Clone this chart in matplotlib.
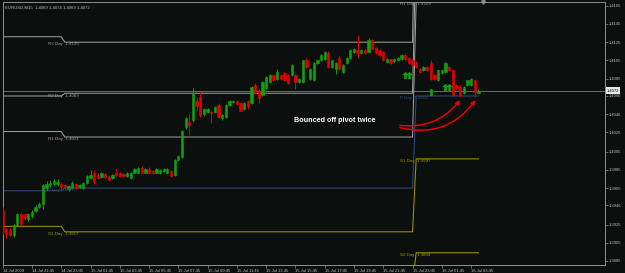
import matplotlib
matplotlib.use('Agg')
import matplotlib.pyplot as plt
import matplotlib.transforms as mtransforms
from matplotlib.patches import FancyArrowPatch
import numpy as np

# ---------------- data ----------------
opens = [1.3941, 1.3920, 1.3919, 1.3913, 1.3925, 1.3936, 1.3936, 1.3931, 1.3934, 1.3940,
         1.3944, 1.3948, 1.3965, 1.3968, 1.3969, 1.3969, 1.3970, 1.3968, 1.3964, 1.3965,
         1.3969, 1.3966, 1.3965, 1.3971, 1.3976, 1.3982, 1.3979, 1.3977, 1.3980, 1.3977,
         1.3976, 1.3982, 1.3981, 1.3980, 1.3978, 1.3976, 1.3982, 1.3982, 1.3987, 1.3982,
         1.3986, 1.3984, 1.3982, 1.3981, 1.3984, 1.3982, 1.3984, 1.3979, 1.3996, 1.3999,
         1.4032, 1.4037, 1.4040, 1.4060, 1.4065, 1.4046, 1.4048, 1.4048, 1.4048, 1.4056,
         1.4042, 1.4043, 1.4056, 1.4059, 1.4061, 1.4058, 1.4052, 1.4060, 1.4058, 1.4078,
         1.4072, 1.4067, 1.4075, 1.4081, 1.4089, 1.4085, 1.4089, 1.4091, 1.4089, 1.4089,
         1.4089, 1.4081, 1.4081, 1.4105, 1.4085, 1.4083, 1.4102, 1.4105, 1.4107, 1.4113,
         1.4098, 1.4096, 1.4108, 1.4092, 1.4102, 1.4108, 1.4114, 1.4116, 1.4113, 1.4116,
         1.4114, 1.4127, 1.4119, 1.4116, 1.4114, 1.4103, 1.4107, 1.4104, 1.4105, 1.4107,
         1.4111, 1.4108, 1.4105, 1.4103, 1.4096, 1.4094, 1.4098, 1.4102, 1.4089, 1.4083,
         1.4091, 1.4092, 1.4098, 1.4094, 1.4078, 1.4076, 1.4069, 1.4078, 1.4078, 1.4083,
         1.4069]
highs = [1.3944, 1.3921, 1.3921, 1.3926, 1.3938, 1.3939, 1.3938, 1.3938, 1.3941, 1.3946,
         1.3950, 1.3970, 1.3973, 1.3974, 1.3975, 1.3975, 1.3972, 1.3969, 1.3968, 1.3973,
         1.3971, 1.3970, 1.3972, 1.3979, 1.3985, 1.3985, 1.3981, 1.3983, 1.3982, 1.3979,
         1.3980, 1.3986, 1.3983, 1.3982, 1.3983, 1.3983, 1.3987, 1.3988, 1.3989, 1.3987,
         1.3988, 1.3985, 1.3987, 1.3986, 1.3987, 1.3987, 1.3985, 1.3997, 1.4001, 1.4029,
         1.4043, 1.4046, 1.4075, 1.4065, 1.4070, 1.4053, 1.4053, 1.4050, 1.4055, 1.4058,
         1.4046, 1.4057, 1.4062, 1.4062, 1.4062, 1.4059, 1.4059, 1.4062, 1.4077, 1.4080,
         1.4074, 1.4082, 1.4088, 1.4090, 1.4090, 1.4096, 1.4090, 1.4092, 1.4090, 1.4101,
         1.4090, 1.4086, 1.4106, 1.4108, 1.4097, 1.4103, 1.4106, 1.4112, 1.4115, 1.4115,
         1.4106, 1.4103, 1.4110, 1.4101, 1.4109, 1.4117, 1.4119, 1.4133, 1.4117, 1.4117,
         1.4130, 1.4128, 1.4120, 1.4117, 1.4115, 1.4108, 1.4108, 1.4108, 1.4109, 1.4112,
         1.4112, 1.4109, 1.4106, 1.4104, 1.4097, 1.4099, 1.4099, 1.4105, 1.4090, 1.4095,
         1.4095, 1.4103, 1.4099, 1.4095, 1.4079, 1.4078, 1.4077, 1.4084, 1.4086, 1.4084,
         1.4074]
lows = [1.3915, 1.3910, 1.3912, 1.3911, 1.3923, 1.3923, 1.3930, 1.3929, 1.3932, 1.3939,
        1.3943, 1.3942, 1.3963, 1.3966, 1.3967, 1.3967, 1.3964, 1.3963, 1.3962, 1.3964,
        1.3964, 1.3965, 1.3964, 1.3970, 1.3975, 1.3970, 1.3975, 1.3976, 1.3976, 1.3973,
        1.3975, 1.3978, 1.3977, 1.3977, 1.3977, 1.3975, 1.3981, 1.3981, 1.3981, 1.3981,
        1.3980, 1.3980, 1.3981, 1.3980, 1.3983, 1.3981, 1.3977, 1.3978, 1.3995, 1.3998,
        1.4030, 1.4023, 1.4038, 1.4050, 1.4043, 1.4044, 1.4047, 1.4036, 1.4047, 1.4042,
        1.4040, 1.4042, 1.4055, 1.4058, 1.4056, 1.4049, 1.4051, 1.4052, 1.4057, 1.4068,
        1.4058, 1.4066, 1.4074, 1.4080, 1.4082, 1.4084, 1.4084, 1.4082, 1.4079, 1.4088,
        1.4074, 1.4080, 1.4080, 1.4097, 1.4084, 1.4082, 1.4101, 1.4104, 1.4106, 1.4097,
        1.4097, 1.4090, 1.4095, 1.4091, 1.4101, 1.4107, 1.4113, 1.4108, 1.4112, 1.4112,
        1.4113, 1.4117, 1.4112, 1.4110, 1.4104, 1.4102, 1.4101, 1.4103, 1.4104, 1.4106,
        1.4106, 1.4101, 1.4099, 1.4097, 1.4091, 1.4093, 1.4093, 1.4084, 1.4084, 1.4082,
        1.4090, 1.4091, 1.4093, 1.4066, 1.4074, 1.4065, 1.4068, 1.4077, 1.4077, 1.4065,
        1.4069]
closes = [1.3917, 1.3915, 1.3914, 1.3925, 1.3936, 1.3926, 1.3932, 1.3936, 1.3939, 1.3944,
          1.3948, 1.3968, 1.3969, 1.3971, 1.3973, 1.3972, 1.3966, 1.3966, 1.3967, 1.3971,
          1.3965, 1.3968, 1.3971, 1.3978, 1.3979, 1.3972, 1.3976, 1.3981, 1.3977, 1.3974,
          1.3979, 1.3979, 1.3978, 1.3978, 1.3982, 1.3982, 1.3986, 1.3987, 1.3982, 1.3986,
          1.3981, 1.3981, 1.3986, 1.3985, 1.3986, 1.3986, 1.3978, 1.3996, 1.4000, 1.4028,
          1.4042, 1.4034, 1.4069, 1.4055, 1.4045, 1.4052, 1.4052, 1.4047, 1.4054, 1.4043,
          1.4045, 1.4056, 1.4061, 1.4061, 1.4057, 1.4050, 1.4058, 1.4055, 1.4076, 1.4069,
          1.4064, 1.4081, 1.4087, 1.4089, 1.4083, 1.4092, 1.4085, 1.4083, 1.4080, 1.4100,
          1.4081, 1.4085, 1.4105, 1.4098, 1.4096, 1.4102, 1.4105, 1.4111, 1.4114, 1.4098,
          1.4105, 1.4102, 1.4096, 1.4100, 1.4108, 1.4116, 1.4118, 1.4113, 1.4116, 1.4113,
          1.4127, 1.4118, 1.4113, 1.4111, 1.4105, 1.4107, 1.4102, 1.4107, 1.4108, 1.4111,
          1.4107, 1.4102, 1.4100, 1.4098, 1.4092, 1.4098, 1.4094, 1.4085, 1.4085, 1.4094,
          1.4094, 1.4102, 1.4094, 1.4067, 1.4075, 1.4067, 1.4076, 1.4083, 1.4085, 1.4070,
          1.4072]

# daily pivot levels (14 Jul, 15 Jul, 16 Jul) and bars per day on screen
day_lengths = [17, 96, 18]
r3_levels = [1.4131, 1.4125, 1.4341]
r2_levels = [1.4066, 1.4069, 1.4238]
r1_levels = [1.4027, 1.4021, 1.4169]
p_levels = [1.3962, 1.3965, 1.4066]
s1_levels = [1.3923, 1.3917, 1.3997]
s2_levels = [1.3858, 1.3861, 1.3894]

x_tick_bars = [0, 8, 16, 24, 32, 40, 48, 56, 64, 72, 80, 88, 96, 104, 112, 120, 128]
x_tick_labels = ["14 Jul 2009", "14 Jul 21:45", "14 Jul 23:45", "15 Jul 01:45", "15 Jul 03:45",
                 "15 Jul 05:45", "15 Jul 07:45", "15 Jul 09:45", "15 Jul 11:45", "15 Jul 13:45",
                 "15 Jul 15:45", "15 Jul 17:45", "15 Jul 19:45", "15 Jul 21:45", "15 Jul 23:45",
                 "16 Jul 01:45", "16 Jul 03:45"]
y_tick_labels = ["1.4165", "1.4145", "1.4125", "1.4105", "1.4085", "1.4066", "1.4046", "1.4026",
                 "1.4005", "1.3985", "1.3965", "1.3946", "1.3925", "1.3905", "1.3885"]

arrow_bars = [110, 111, 117, 121, 122]
arrow_tops = [1.4094, 1.4094, 1.4075, 1.4080, 1.4080]

last_price = 1.4072
header = "EURUSD,M15  1.4069 1.4074 1.4069 1.4072"

# ---------------- style ----------------
BG = '#0b0f0e'
GRAY = '#a0a09c'
BLUE = '#2f4b86'
YELLOW = '#aa9800'
GREEN = '#12a012'
RED = '#e80000'
TXT = '#c0c0c0'
FONT = 'Liberation Sans'

fig = plt.figure(figsize=(6.25, 2.73), dpi=100, facecolor=BG)
ax = fig.add_axes([2.5 / 625, 1 - 265 / 273, (605 - 2.5) / 625, 263 / 273])
ax.set_facecolor(BG)

n = len(opens)
xs = np.arange(n)
o = np.array(opens); c = np.array(closes); h = np.array(highs); l = np.array(lows)
up = c >= o
cols = np.where(up, GREEN, RED)

# wicks
ax.vlines(xs, l, h, colors=cols, linewidth=0.7, zorder=3)
# bodies
ax.bar(xs, c - o, bottom=o, width=0.62, color=cols, edgecolor=cols, linewidth=0.4, zorder=4)

# pivot lines
def day_series(levels):
    return np.repeat(levels, day_lengths)

for lev, colr in [(r3_levels, GRAY), (r2_levels, GRAY), (r1_levels, GRAY),
                  (p_levels, BLUE), (s1_levels, YELLOW), (s2_levels, YELLOW)]:
    ax.plot(xs, day_series(lev), color=colr, linewidth=0.72, zorder=2)

# pivot labels
lab_fs = 3.2
for name, lev, colr in [("R3", r3_levels, GRAY), ("R2", r2_levels, GRAY), ("R1", r1_levels, GRAY),
                        ("P", p_levels, BLUE), ("S1", s1_levels, YELLOW)]:
    ax.text(12.4, lev[1] - 0.00003, f"{name} Day  {lev[1]:.4f}", color=colr, fontsize=lab_fs,
            family=FONT, ha='left', va='top', zorder=5)
for name, lev, colr in [("R1", r1_levels, GRAY), ("P", p_levels, BLUE),
                        ("S1", s1_levels, YELLOW), ("S2", s2_levels, YELLOW)]:
    ax.text(108.6, lev[2] - 0.00003, f"{name} Day  {lev[2]:.4f}", color=colr, fontsize=lab_fs,
            family=FONT, ha='left', va='top', zorder=5)

# current price line
ax.axhline(last_price, color='#808080', linewidth=0.55, zorder=1)

# green up arrows
arrow_marker = [(0, 1), (-0.9, 0.1), (-0.35, 0.1), (-0.35, -1), (0.35, -1), (0.35, 0.1), (0.9, 0.1), (0, 1)]
ax.scatter(arrow_bars, np.array(arrow_tops) - 0.00045, marker=arrow_marker, s=28,
           color=GREEN, zorder=6, linewidths=0)

# annotation text and red curved arrows
ax.text(90.8, 1.40386, "Bounced off pivot twice", color='white', fontsize=5.2,
        family=FONT, fontweight='bold', ha='center', va='center', zorder=7)
for (x0, y0, x1, y1, rad) in [(107.8, 1.40342, 125.4, 1.40638, 0.3),
                              (107.8, 1.40320, 129.6, 1.40638, 0.35)]:
    arr = FancyArrowPatch((x0, y0), (x1, y1), connectionstyle=f"arc3,rad={rad}",
                          arrowstyle='-|>', mutation_scale=6, color=RED, linewidth=1.1, zorder=8)
    ax.add_patch(arr)

# header
ax.text(0.004, 0.985, header, transform=ax.transAxes, color=TXT, fontsize=3.1, family=FONT,
        ha='left', va='top')

# chart shift marker
ax.plot([131.3], [1.0], marker='v', markersize=2.5, color='#909090',
        transform=mtransforms.blended_transform_factory(ax.transData, ax.transAxes),
        clip_on=False, zorder=9)

# axes
ax.set_xlim(-0.05, 164.6)
ax.set_ylim(1.38806, 1.41691)
ax.set_xticks(x_tick_bars)
ax.set_xticklabels(x_tick_labels)
ax.set_yticks([float(v) for v in y_tick_labels])
ax.set_yticklabels(y_tick_labels)
ax.yaxis.tick_right()
ax.tick_params(axis='both', colors='#909090', labelcolor=TXT, labelsize=3.0, length=2,
               width=0.5, direction='out', pad=1)
for lbl in ax.get_xticklabels():
    lbl.set_ha('left')
    lbl.set_family(FONT)
for lbl in ax.get_yticklabels():
    lbl.set_family(FONT)
for sp in ax.spines.values():
    sp.set_color('#909090')
    sp.set_linewidth(0.7)

# last price box on right axis
ax.text(1.003, last_price, f"{last_price:.4f}", transform=mtransforms.blended_transform_factory(ax.transAxes, ax.transData),
        color='black', fontsize=3.0, family=FONT, ha='left', va='center',
        bbox=dict(boxstyle='square,pad=0.25', facecolor='#e8e8e8', edgecolor='none'), zorder=10, clip_on=False)

fig.savefig('out.png', dpi=100, facecolor=BG)
